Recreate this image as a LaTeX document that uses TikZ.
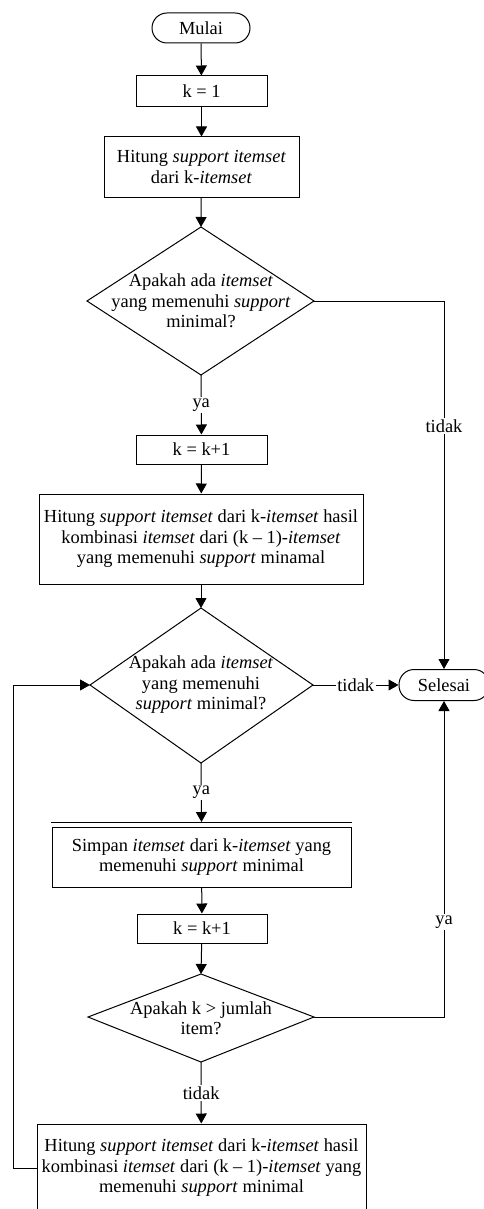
\documentclass[tikz,border=0pt]{standalone}
\usepackage{fontspec}
\setmainfont{Liberation Serif}
\usetikzlibrary{arrows.meta}
\begin{document}
\begin{tikzpicture}[x=1pt,y=-1pt,
  txt/.style={inner sep=0pt, align=center, font=\fontsize{18.4}{20.5}\selectfont},
  box/.style={txt, draw, line width=1pt},
  term/.style={box, rounded corners=15pt},
  lbl/.style={txt, fill=white, inner sep=1.5pt},
  ln/.style={line width=1pt},
  arr/.style={ln, -{Triangle[length=10pt,width=11pt]}}]
\useasboundingbox (0,0) rectangle (484,1209);
\clip (0,0) rectangle (484,1209);
\fill[white] (0,0) rectangle (484,1209);
% nodes
\node[term, minimum width=98pt, minimum height=30pt] (mulai) at (201,28) {Mulai};
\node[box, minimum width=131pt, minimum height=31pt] (k1) at (201.5,91.5) {k = 1};
\node[box, minimum width=195pt, minimum height=60pt] (h1) at (201.5,167) {Hitung \emph{support itemset}\\dari k-\emph{itemset}};
% diamond 1
\coordinate (d1n) at (201,227); \coordinate (d1s) at (201,375);
\coordinate (d1w) at (87,301);  \coordinate (d1e) at (314,301);
\draw[ln] (d1n) -- (d1e) -- (d1s) -- (d1w) -- cycle;
\node[txt] (d1) at (201,301) {Apakah ada \emph{itemset}\\yang memenuhi \emph{support}\\minimal?};
\node[box, minimum width=131pt, minimum height=29pt] (k2) at (201.5,449.5) {k = k+1};
\node[box, minimum width=324pt, minimum height=90pt] (h2) at (201,539) {Hitung \emph{support itemset} dari k-\emph{itemset} hasil\\kombinasi \emph{itemset} dari (k -- 1)-\emph{itemset}\\yang memenuhi \emph{support} minamal};
% diamond 2
\coordinate (d2n) at (201,608); \coordinate (d2s) at (201,763);
\coordinate (d2w) at (90,685);  \coordinate (d2e) at (313,685);
\draw[ln] (d2n) -- (d2e) -- (d2s) -- (d2w) -- cycle;
\node[txt] (d2) at (201,685) {Apakah ada \emph{itemset}\\yang memenuhi\\\emph{support} minimal?};
\node[term, minimum width=90pt, minimum height=31pt] (sel) at (444,685) {Selesai};
% simpan
\coordinate (sl) at (51,822); \coordinate (sr) at (352,822); \coordinate (stop) at (201.5,822);
\draw[ln] (sl) -- (sr);
\node[box, minimum width=299pt, minimum height=60pt] (simpan) at (201.5,857) {Simpan \emph{itemset} dari k-\emph{itemset} yang\\memenuhi \emph{support} minimal};
\node[box, minimum width=130pt, minimum height=29pt] (k3) at (202,928.5) {k = k+1};
% diamond 3
\coordinate (d3n) at (201,974); \coordinate (d3s) at (201,1062);
\coordinate (d3w) at (88,1017); \coordinate (d3e) at (314,1017);
\draw[ln] (d3n) -- (d3e) -- (d3s) -- (d3w) -- cycle;
\node[txt] (d3) at (201,1018) {Apakah k > jumlah\\item?};
\node[box, minimum width=329pt, minimum height=88pt] (h3) at (201.5,1168) {Hitung \emph{support itemset} dari k-\emph{itemset} hasil\\kombinasi \emph{itemset} dari (k -- 1)-\emph{itemset} yang\\memenuhi \emph{support} minimal};
% helper coordinates
\coordinate (rc1) at (444,301);
\coordinate (rc3) at (444,1017);
\coordinate (lb) at (13,1168);
% connectors
\draw[arr] (mulai) -- (k1);
\draw[arr] (k1) -- (h1);
\draw[arr] (h1) -- (d1n);
\draw[arr] (d1s) -- node[lbl]{ya} (k2);
\draw[arr] (k2) -- (h2);
\draw[arr] (h2) -- (d2n);
\draw[arr] (d2s) -- node[lbl]{ya} (stop);
\draw[arr] (simpan) -- (k3);
\draw[arr] (k3) -- (d3n);
\draw[arr] (d3s) -- node[lbl]{tidak} (h3);
\draw[arr] (d1e) -- (rc1) -- node[lbl, pos=0.34]{tidak} (sel.north);
\draw[arr] (d2e) -- node[lbl]{tidak} (sel.west);
\draw[arr] (d3e) -- (rc3) -- node[lbl, pos=0.30]{ya} (sel.south);
\draw[arr] (h3.west) -- (lb) |- (d2w);
\end{tikzpicture}
\end{document}
